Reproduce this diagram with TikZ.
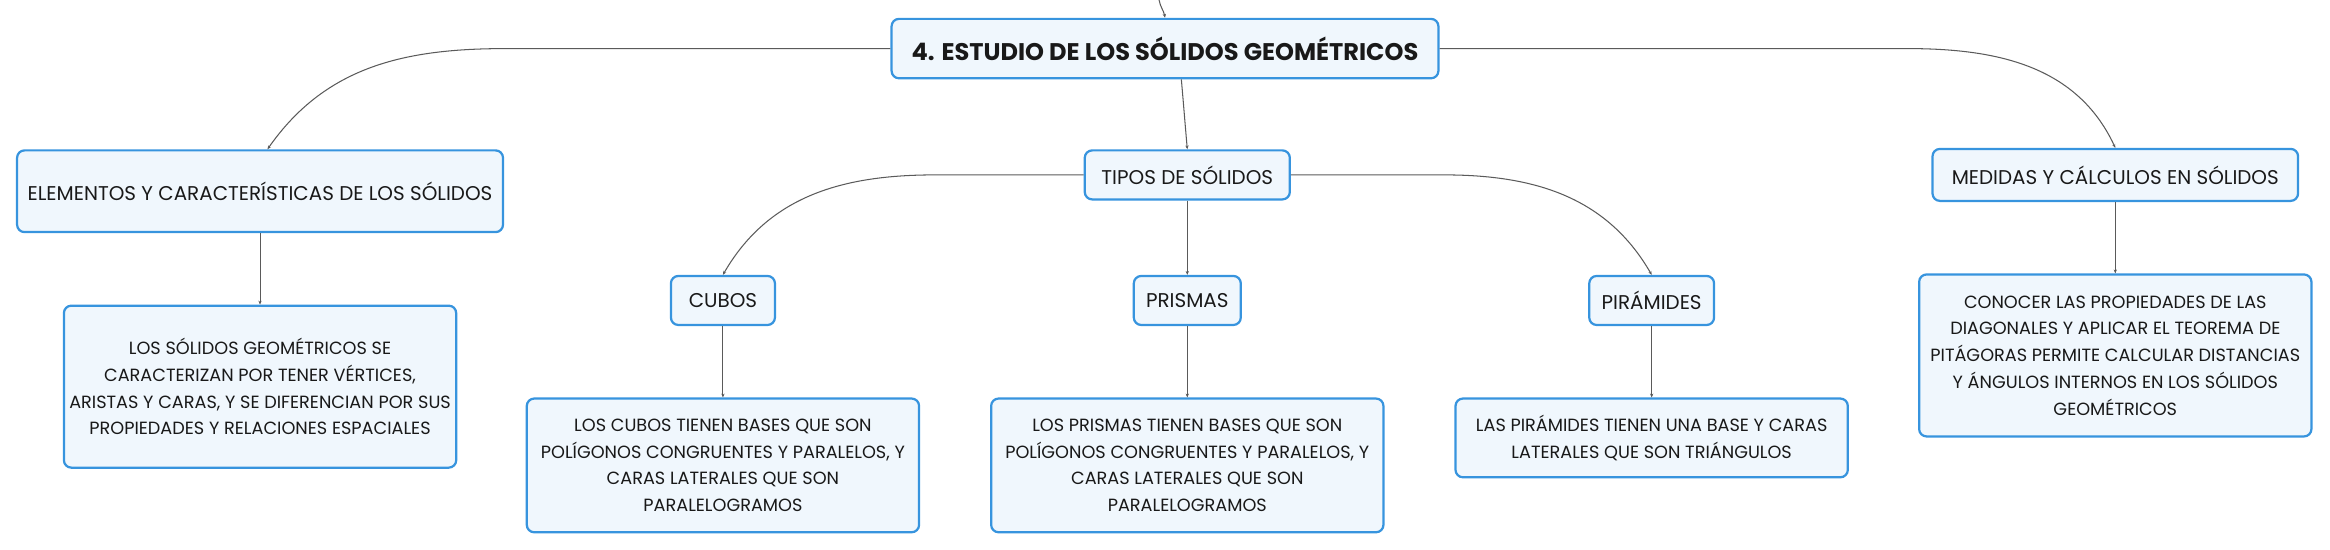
\documentclass[tikz,border=0pt]{standalone}
\usepackage{fontspec}
\setmainfont{Poppins}
\usetikzlibrary{positioning,arrows.meta}
\definecolor{topicblue}{RGB}{55,148,222}
\definecolor{topicfill}{RGB}{240,247,253}
\definecolor{linkgray}{RGB}{90,90,90}

\begin{document}
\begin{tikzpicture}[x=1pt,y=1pt,node distance=48pt,>={Stealth[length=2.6pt,width=2.2pt]}]
        \tikzstyle{topic}=[draw=topicblue,fill=topicfill,line width=1.5pt,rounded corners=5pt,inner sep=0pt,align=center,text=black!90,font=\fontsize{13.4}{15}\selectfont]
        \tikzstyle{root}=[topic,font=\fontsize{16.2}{18}\selectfont\bfseries]
        \tikzstyle{note}=[topic,minimum width=264pt,font=\fontsize{11.9}{18}\selectfont]
        \tikzstyle{link}=[draw=linkgray,line width=0.7pt,->]

        \useasboundingbox (0,0) rectangle (1568,-369.5);

        \coordinate (I00) at (780,0);
        \node[root,minimum width=368pt,minimum height=40pt]  (R00) at (784,-32.7)        {4. ESTUDIO DE LOS SÓLIDOS GEOMÉTRICOS};
        \node[topic,minimum width=138pt,minimum height=33pt] (T01) [below=47pt of R00,xshift=15pt] {TIPOS DE SÓLIDOS};
        \node[topic,minimum width=327pt,minimum height=55pt] (E01) [left=390pt of T01,yshift=-11pt] {ELEMENTOS Y CARACTERÍSTICAS DE LOS SÓLIDOS};
        \node[topic,minimum width=246pt,minimum height=35pt] (M01) [right=431pt of T01] {MEDIDAS Y CÁLCULOS EN SÓLIDOS};
        \node[topic,minimum width=72pt,minimum height=33pt]  (P01) [below=50pt of T01] {PRISMAS};
        \node[topic,minimum width=70pt,minimum height=33pt]  (C01) [left=240pt of P01]  {CUBOS};
        \node[topic,minimum width=84pt,minimum height=33pt]  (P02) [right=233pt of P01] {PIRÁMIDES};
        \node[note,minimum height=109pt] (D01) [below=of E01] {LOS SÓLIDOS GEOMÉTRICOS SE\\CARACTERIZAN POR TENER VÉRTICES,\\ARISTAS Y CARAS, Y SE DIFERENCIAN POR SUS\\PROPIEDADES Y RELACIONES ESPACIALES};
        \node[note,minimum height=90pt]  (D02) [below=of C01] {LOS CUBOS TIENEN BASES QUE SON\\POLÍGONOS CONGRUENTES Y PARALELOS, Y\\CARAS LATERALES QUE SON\\PARALELOGRAMOS};
        \node[note,minimum height=90pt]  (D03) [below=of P01] {LOS PRISMAS TIENEN BASES QUE SON\\POLÍGONOS CONGRUENTES Y PARALELOS, Y\\CARAS LATERALES QUE SON\\PARALELOGRAMOS};
        \node[note,minimum height=53pt]  (D04) [below=of P02] {LAS PIRÁMIDES TIENEN UNA BASE Y CARAS\\LATERALES QUE SON TRIÁNGULOS};
        \node[note,minimum height=109pt] (D05) [below=of M01] {CONOCER LAS PROPIEDADES DE LAS\\DIAGONALES Y APLICAR EL TEOREMA DE\\PITÁGORAS PERMITE CALCULAR DISTANCIAS\\Y ÁNGULOS INTERNOS EN LOS SÓLIDOS\\GEOMÉTRICOS};

        % ramas principales
        \draw[link] (I00) to[out=-80,in=100] (R00.north);
        \draw[link] (R00.west) -- ++(-259,0) to[out=180,in=55] ([xshift=5pt]E01.north);
        \draw[link] ([xshift=11pt]R00.south) to[out=-85,in=95] (T01.north);
        \draw[link] (R00.east) -- ++(315,0) to[out=0,in=115] (M01.north);
        % tipos
        \draw[link] (T01.west) -- ++(-100,0) to[out=180,in=60] (C01.north);
        \draw[link] (T01.east) -- ++(103,0) to[out=0,in=120] (P02.north);
        \path[link]
                  (T01) edge (P01)
                  (E01) edge (D01)
                  (C01) edge (D02)
                  (P01) edge (D03)
                  (P02) edge (D04)
                  (M01) edge (D05);
\end{tikzpicture}
\end{document}
